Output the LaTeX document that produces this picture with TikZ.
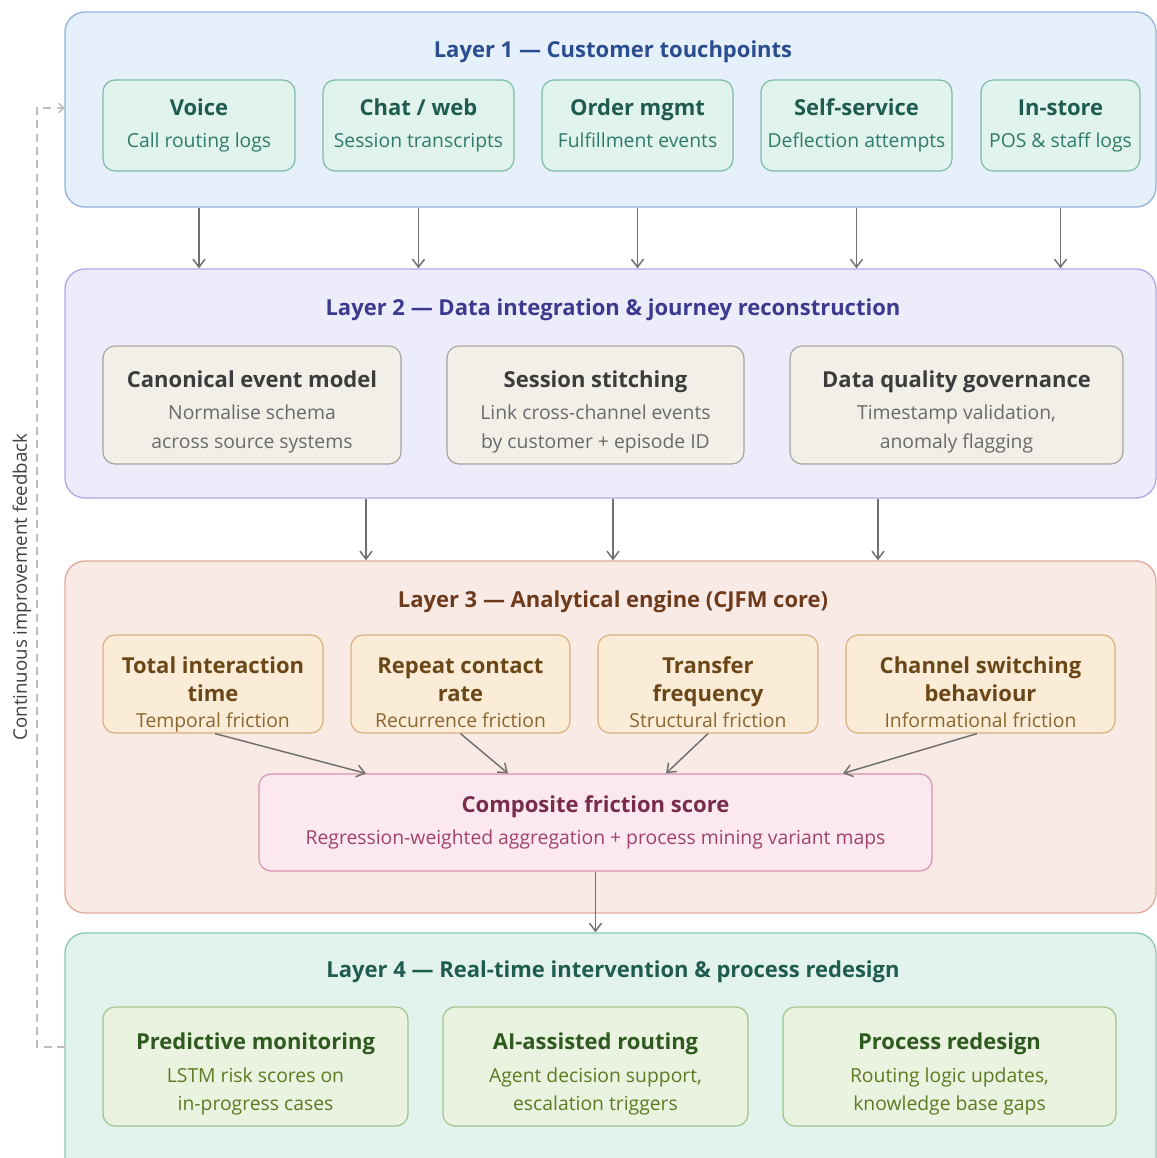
\documentclass[tikz,border=0pt]{standalone}
\usepackage{fontspec}
\setmainfont{Open Sans}
\usetikzlibrary{fit,calc,arrows.meta}
\definecolor{lA}{HTML}{E6F0FB}\definecolor{lAd}{HTML}{93B4DE}\definecolor{lAt}{HTML}{2A4D8F}
\definecolor{bA}{HTML}{E0F3EC}\definecolor{bAd}{HTML}{7DBBA4}\definecolor{bAt}{HTML}{1F5C4F}\definecolor{bAs}{HTML}{2F7A6B}
\definecolor{lB}{HTML}{EDECFB}\definecolor{lBd}{HTML}{AEA9E6}\definecolor{lBt}{HTML}{3B3A8F}
\definecolor{bB}{HTML}{F2EFE9}\definecolor{bBd}{HTML}{A9A59D}\definecolor{bBt}{HTML}{3C3C3C}\definecolor{bBs}{HTML}{6A6A6A}
\definecolor{lC}{HTML}{FAEAE6}\definecolor{lCd}{HTML}{E2AA9A}\definecolor{lCt}{HTML}{6E3A1C}
\definecolor{bC}{HTML}{FBECD8}\definecolor{bCd}{HTML}{D8B07C}\definecolor{bCt}{HTML}{6B4718}\definecolor{bCs}{HTML}{8A6630}
\definecolor{cP}{HTML}{FBE9EF}\definecolor{cPd}{HTML}{D992AC}\definecolor{cPt}{HTML}{782B4B}\definecolor{cPs}{HTML}{A2426C}
\definecolor{lD}{HTML}{E1F3EC}\definecolor{lDd}{HTML}{8CC8AE}\definecolor{lDt}{HTML}{1F5C4F}
\definecolor{bD}{HTML}{EAF3DF}\definecolor{bDd}{HTML}{9CC58C}\definecolor{bDt}{HTML}{2E5A1F}\definecolor{bDs}{HTML}{5C7A22}
\definecolor{arrc}{HTML}{707070}\definecolor{fbc}{HTML}{BDBDBD}
\begin{document}
\begin{tikzpicture}[x=0.75pt,y=-0.75pt,
  layer/.style={rounded corners=15pt, line width=1pt, inner sep=0pt},
  card/.style={rounded corners=9pt, line width=0.9pt, inner sep=0pt},
  ttl/.style={anchor=base, inner sep=0pt, font=\fontsize{16.5}{19}\selectfont\bfseries},
  ltl/.style={anchor=base, inner sep=0pt, font=\fontsize{16.5}{19}\selectfont\bfseries},
  sub/.style={anchor=base, inner sep=0pt, font=\fontsize{14.5}{17}\selectfont},
  arr/.style={draw=arrc, line width=1.1pt, -{Straight Barb[length=6pt,width=9pt]}},
  fb/.style={draw=fbc, line width=1.1pt, dashed, dash pattern=on 6pt off 4pt, -{Straight Barb[length=4pt,width=7pt]}}
]
\useasboundingbox (0,0) rectangle (1157,1158);
\fill[white] (0,0) rectangle (1157,1158);

% Layer 1
\node[layer, fill=lA, draw=lAd, fit={(65,12)(1156,207)}] (L1) {};
\node[ltl, text=lAt] (L1t) at (613,57) {Layer 1 — Customer touchpoints};
\node[card, fill=bA, draw=bAd, fit={(103,80)(295,171)}] (v) {};
\node[card, fill=bA, draw=bAd, fit={(323,80)(514,171)}] (ch) {};
\node[card, fill=bA, draw=bAd, fit={(542,80)(733,171)}] (om) {};
\node[card, fill=bA, draw=bAd, fit={(761,80)(952,171)}] (ss) {};
\node[card, fill=bA, draw=bAd, fit={(981,80)(1140,171)}] (is) {};
\node[ttl, text=bAt] (vt) at (v.center |- 0,115) {Voice};
\node[sub, text=bAs] (vs) at (v.center |- 0,147) {Call routing logs};
\node[ttl, text=bAt] (cht) at (ch.center |- 0,115) {Chat / web};
\node[sub, text=bAs] (chs) at (ch.center |- 0,147) {Session transcripts};
\node[ttl, text=bAt] (omt) at (om.center |- 0,115) {Order mgmt};
\node[sub, text=bAs] (oms) at (om.center |- 0,147) {Fulfillment events};
\node[ttl, text=bAt] (sst) at (ss.center |- 0,115) {Self-service};
\node[sub, text=bAs] (sss) at (ss.center |- 0,147) {Deflection attempts};
\node[ttl, text=bAt] (ist) at (is.center |- 0,115) {In-store};
\node[sub, text=bAs] (iss) at (is.center |- 0,147) {POS \& staff logs};

% Layer 2
\node[layer, fill=lB, draw=lBd, fit={(65,269)(1156,498)}] (L2) {};
\node[ltl, text=lBt] (L2t) at (613,315) {Layer 2 — Data integration \& journey reconstruction};
\node[card, fill=bB, draw=bBd, fit={(103,346)(401,464)}] (ce) {};
\node[card, fill=bB, draw=bBd, fit={(447,346)(744,464)}] (st) {};
\node[card, fill=bB, draw=bBd, fit={(790,346)(1123,464)}] (dq) {};
\node[ttl, text=bBt] (cet) at (ce.center |- 0,387) {Canonical event model};
\node[sub, text=bBs] (ces1) at (ce.center |- 0,419) {Normalise schema};
\node[sub, text=bBs] (ces2) at (ce.center |- 0,448) {across source systems};
\node[ttl, text=bBt] (stt) at (st.center |- 0,387) {Session stitching};
\node[sub, text=bBs] (sts1) at (st.center |- 0,419) {Link cross-channel events};
\node[sub, text=bBs] (sts2) at (st.center |- 0,448) {by customer + episode ID};
\node[ttl, text=bBt] (dqt) at (dq.center |- 0,387) {Data quality governance};
\node[sub, text=bBs] (dqs1) at (dq.center |- 0,419) {Timestamp validation,};
\node[sub, text=bBs] (dqs2) at (dq.center |- 0,448) {anomaly flagging};

% Layer 3
\node[layer, fill=lC, draw=lCd, fit={(65,561)(1156,913)}] (L3) {};
\node[ltl, text=lCt] (L3t) at (613,607) {Layer 3 — Analytical engine (CJFM core)};
\node[card, fill=bC, draw=bCd, fit={(103,635)(323,733)}] (ti) {};
\node[card, fill=bC, draw=bCd, fit={(351,635)(570,733)}] (rc) {};
\node[card, fill=bC, draw=bCd, fit={(598,635)(818,733)}] (tf) {};
\node[card, fill=bC, draw=bCd, fit={(846,635)(1115,733)}] (cs) {};
\node[ttl, text=bCt] (tit1) at (ti.center |- 0,673) {Total interaction};
\node[ttl, text=bCt] (tit2) at (ti.center |- 0,701) {time};
\node[sub, text=bCs] (tis) at (ti.center |- 0,727) {Temporal friction};
\node[ttl, text=bCt] (rct1) at (rc.center |- 0,673) {Repeat contact};
\node[ttl, text=bCt] (rct2) at (rc.center |- 0,701) {rate};
\node[sub, text=bCs] (rcs) at (rc.center |- 0,727) {Recurrence friction};
\node[ttl, text=bCt] (tft1) at (tf.center |- 0,673) {Transfer};
\node[ttl, text=bCt] (tft2) at (tf.center |- 0,701) {frequency};
\node[sub, text=bCs] (tfs) at (tf.center |- 0,727) {Structural friction};
\node[ttl, text=bCt] (cst1) at (cs.center |- 0,673) {Channel switching};
\node[ttl, text=bCt] (cst2) at (cs.center |- 0,701) {behaviour};
\node[sub, text=bCs] (css) at (cs.center |- 0,727) {Informational friction};
\node[card, fill=cP, draw=cPd, fit={(259,774)(932,871)}] (cf) {};
\node[ttl, text=cPt] (cft) at (cf.center |- 0,812) {Composite friction score};
\node[sub, text=cPs] (cfs) at (cf.center |- 0,844) {Regression-weighted aggregation + process mining variant maps};

% Layer 4
\node[layer, fill=lD, draw=lDd, fit={(65,933)(1156,1180)}] (L4) {};
\node[ltl, text=lDt] (L4t) at (613,977) {Layer 4 — Real-time intervention \& process redesign};
\node[card, fill=bD, draw=bDd, fit={(103,1007)(408,1126)}] (pm) {};
\node[card, fill=bD, draw=bDd, fit={(443,1007)(748,1126)}] (ai) {};
\node[card, fill=bD, draw=bDd, fit={(783,1007)(1116,1126)}] (pr) {};
\node[ttl, text=bDt] (pmt) at (pm.center |- 0,1049) {Predictive monitoring};
\node[sub, text=bDs] (pms1) at (pm.center |- 0,1082) {LSTM risk scores on};
\node[sub, text=bDs] (pms2) at (pm.center |- 0,1110) {in-progress cases};
\node[ttl, text=bDt] (ait) at (ai.center |- 0,1049) {AI-assisted routing};
\node[sub, text=bDs] (ais1) at (ai.center |- 0,1082) {Agent decision support,};
\node[sub, text=bDs] (ais2) at (ai.center |- 0,1110) {escalation triggers};
\node[ttl, text=bDt] (prt) at (pr.center |- 0,1049) {Process redesign};
\node[sub, text=bDs] (prs1) at (pr.center |- 0,1082) {Routing logic updates,};
\node[sub, text=bDs] (prs2) at (pr.center |- 0,1110) {knowledge base gaps};

% Arrows layer 1 -> 2
\foreach \b in {v,ch,om,ss,is} \draw[arr] (\b.south |- L1.south) -- (\b.south |- L2.north);
% Arrows layer 2 -> 3
\draw[arr] ($(L2.south)+(-244.5,0)$) -- ($(L3.north)+(-244.5,0)$);
\draw[arr] ($(L2.south)+(2.5,0)$) -- ($(L3.north)+(2.5,0)$);
\draw[arr] ($(L2.south)+(267.5,0)$) -- ($(L3.north)+(267.5,0)$);
% Layer 3 internal
\draw[arr] ($(ti.south)+(2,0)$) -- ($(cf.north)+(-229.5,0)$);
\draw[arr] (rc.south) -- ($(cf.north)+(-87.5,0)$);
\draw[arr] (tf.south) -- ($(cf.north)+(70.5,0)$);
\draw[arr] ($(cs.south)+(-3.5,0)$) -- ($(cf.north)+(247.5,0)$);
% Composite -> layer 4
\draw[arr] (cf.south) -- (cf.south |- L4.north);

% Feedback loop
\coordinate (fbA) at (65,1047);
\coordinate (fbB) at (65,108);
\draw[fb] (fbA) -- (37,1047) -- (37,108) -- (fbB);
\node[rotate=90, inner sep=0pt, text=black!75, font=\fontsize{14}{16}\selectfont] (fbl) at (22,587) {Continuous improvement feedback};
\end{tikzpicture}
\end{document}
